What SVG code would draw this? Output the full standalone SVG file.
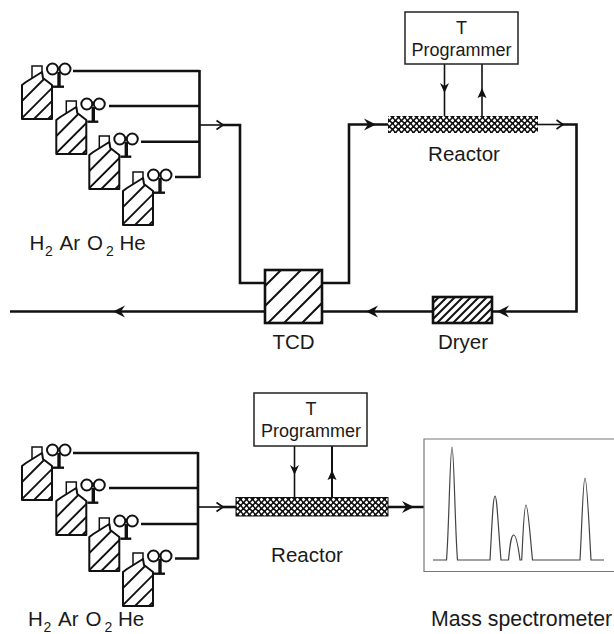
<svg xmlns="http://www.w3.org/2000/svg" width="614" height="634" viewBox="0 0 614 634">
<style>
text{font-family:"Liberation Sans",Arial,sans-serif;font-size:20.5px;fill:#1a1a1a}
.m{text-anchor:middle}
.p{font-size:18px}
.s{font-size:14px}
.w{fill:none;stroke:#111;stroke-width:2.6}
.n{fill:none;stroke:#111;stroke-width:1.6}
.f{fill:#111;stroke:none}
.b{fill:#fff;stroke:#222;stroke-width:1.5}
.h{fill:none;stroke:#111;stroke-width:1.9}
</style>
<defs>
<pattern id="cross" width="6" height="6" patternUnits="userSpaceOnUse" x="388" y="116">
<rect width="6" height="6" fill="#111"/>
<path d="M1.5 -0.4 3.4 1.5 1.5 3.4 -0.4 1.5ZM4.5 2.6 6.4 4.5 4.5 6.4 2.6 4.500Z" fill="#fff"/>
</pattern>
<pattern id="cross2" width="6" height="6" patternUnits="userSpaceOnUse" x="236" y="498">
<rect width="6" height="6" fill="#111"/>
<path d="M1.5 -0.4 3.4 1.5 1.5 3.4 -0.4 1.5ZM4.5 2.6 6.4 4.5 4.5 6.4 2.6 4.500Z" fill="#fff"/>
</pattern>
<clipPath id="cyl"><path d="M22 119V85L42 72L43 78L52 85V119Z"/></clipPath>
<clipPath id="tcd"><rect x="265" y="270" width="57" height="53"/></clipPath>
<clipPath id="dry"><rect x="433" y="297" width="59" height="26"/></clipPath>
<g id="bottle">
<path d="M32 79V66H42V78" fill="#fff" stroke="#111" stroke-width="1.5"/>
<path d="M22 119V85L26 82L42 72L43 78L52 85V119Z" fill="#fff" stroke="#111" stroke-width="2" stroke-linejoin="round"/>
<g clip-path="url(#cyl)" class="h"><path d="M22 84 34 72M22 101 48 75M22 118 56 84M34 119 56 97M48 119 56 111"/></g>
<circle cx="52.500" cy="69" r="5.500" fill="#fff" stroke="#111" stroke-width="2"/>
<circle cx="65" cy="69" r="5.500" fill="#fff" stroke="#111" stroke-width="2"/>
<path d="M59 72V87" stroke="#111" stroke-width="3.400" fill="none"/>
<path d="M53 86.700H64" stroke="#111" stroke-width="2.400" fill="none"/>
</g>
<path id="al" d="M0 0 12 -6 8 0 12 6Z"/>
<path id="ar" d="M0 0 -12 -6 -8 0 -12 6Z"/>
<path id="ao" d="M0 -6 4.500 4 0 2 -4.500 4Z"/>
<path id="ad" d="M-4.500 -5 0 -2 4.500 -5 0 5Z"/>
<path id="ot" d="M-6.500 -4.500 0 0 -6.500 4.500" fill="none" stroke="#111" stroke-width="1.700"/>
</defs>

<g id="connectors">
<path class="w" d="M73 71H199.500M109 106H199.500M141 141.700H199.500M175 177H199.500M199.500 70V178"/>
<path class="n" d="M199.500 125H222"/>
<use href="#ot" x="223" y="125"/>
<path class="w" d="M222 125H240V283H265"/>
<path class="w" d="M322 283H349V124.500H388"/>
<use href="#ar" x="376" y="124.500" class="f"/>
<path class="n" d="M538 124.500H562"/>
<use href="#ot" x="563" y="124.500"/>
<path class="w" d="M562 124.500H576.500V311.500H492"/>
<use href="#al" x="497" y="311.500" class="f"/>
<path class="w" d="M433 311.500H322"/>
<use href="#al" x="366" y="311.500" class="f"/>
<path class="w" d="M265 311.500H10"/>
<use href="#al" x="113" y="311.500" class="f"/>
<path class="n" d="M444.500 64V116"/>
<use href="#ad" x="444.500" y="88" class="f"/>
<path class="n" d="M482 64V116"/>
<use href="#ao" x="482" y="94" class="f"/>

<path class="w" d="M73 453H198M109 488H198M141 524H198M175 558.500H198M198 452V559.500"/>
<path class="n" d="M198 507H222"/>
<use href="#ot" x="223" y="507"/>
<path class="w" d="M222 507H236"/>
<path class="w" d="M388 507H424"/>
<use href="#ar" x="414" y="507" class="f"/>
<path class="n" d="M294.500 446V497"/>
<use href="#ad" x="294.500" y="470" class="f"/>
<path class="w" d="M332 446V497" style="stroke-width:2"/>
<use href="#ao" x="332" y="476" class="f"/>
</g>

<g id="cylinders-top">
<use href="#bottle"/>
<use href="#bottle" x="34.300" y="35"/>
<use href="#bottle" x="67.300" y="70"/>
<use href="#bottle" x="101" y="106"/>
<text x="29.500" y="250">H</text><text class="s" x="45" y="256">2</text><text x="59.500" y="250">Ar</text><text x="87" y="250">O</text><text class="s" x="106" y="256">2</text><text x="119.500" y="250">He</text>
</g>
<g id="cylinders-bottom">
<use href="#bottle" y="381"/>
<use href="#bottle" x="34.300" y="416"/>
<use href="#bottle" x="67.300" y="452"/>
<use href="#bottle" x="101" y="487"/>
<text x="28" y="626">H</text><text class="s" x="43.500" y="632">2</text><text x="58" y="626">Ar</text><text x="85.500" y="626">O</text><text class="s" x="104.500" y="632">2</text><text x="118" y="626">He</text>
</g>

<g id="programmer-top">
<rect class="b" x="405" y="12" width="113" height="52"/>
<text class="m p" x="461.500" y="34">T</text>
<text class="m p" x="461.500" y="56">Programmer</text>
</g>
<g id="reactor-top">
<rect x="388" y="116" width="150" height="17" fill="url(#cross)"/>
<text class="m" x="464" y="161">Reactor</text>
</g>
<g id="tcd-node">
<rect x="265" y="270" width="57" height="53" fill="#fff"/>
<g clip-path="url(#tcd)" class="h" style="stroke-width:2"><path d="M265 286 281 270M265 306 301 270M265 326 321 270M281 326 325 282M299 326 325 300M317 326 325 318"/></g>
<rect class="w" x="265" y="270" width="57" height="53"/>
<text class="m" x="293.500" y="349">TCD</text>
</g>
<g id="dryer">
<rect x="433" y="297" width="59" height="26" fill="#fff"/>
<g clip-path="url(#dry)" style="stroke:#111;stroke-width:2;fill:none"><path d="M433 303 439 297M433 311 447 297M433 319 455 297M437 323 463 297M445 323 471 297M453 323 479 297M461 323 487 297M469 323 495 297M477 323 495 305M485 323 495 313"/></g>
<rect class="w" x="433" y="297" width="59" height="26"/>
<text class="m" x="463" y="349">Dryer</text>
</g>
<g id="programmer-bottom">
<rect class="b" x="254" y="393" width="113" height="53"/>
<text class="m p" x="311" y="415">T</text>
<text class="m p" x="311" y="437">Programmer</text>
</g>
<g id="reactor-bottom">
<rect x="236" y="497.500" width="152" height="18.500" fill="url(#cross2)" stroke="#111" stroke-width="1"/>
<text class="m" x="307" y="562">Reactor</text>
</g>
<g id="mass-spectrometer">
<path d="M614 439H424V571.500H614" fill="#fff" stroke="#777" stroke-width="1.200"/>
<path d="M433 560H446.500C449 530 450 447 452 447C454 447 455 530 457.500 560H490C492 525 493 496 495 496C497 496 498 525 501 560H508.500C510 545 511 535 513.700 535C516 535 518 545 520 560H521.700C523 535 524 505 526 505C528 505 530 535 532.500 560H580C582 525 583 478 585 478C587 478 589 525 591 560H604" fill="none" stroke="#444" stroke-width="1.200"/>
<text x="431" y="626" style="font-size:21.3px">Mass spectrometer</text>
</g>
</svg>
